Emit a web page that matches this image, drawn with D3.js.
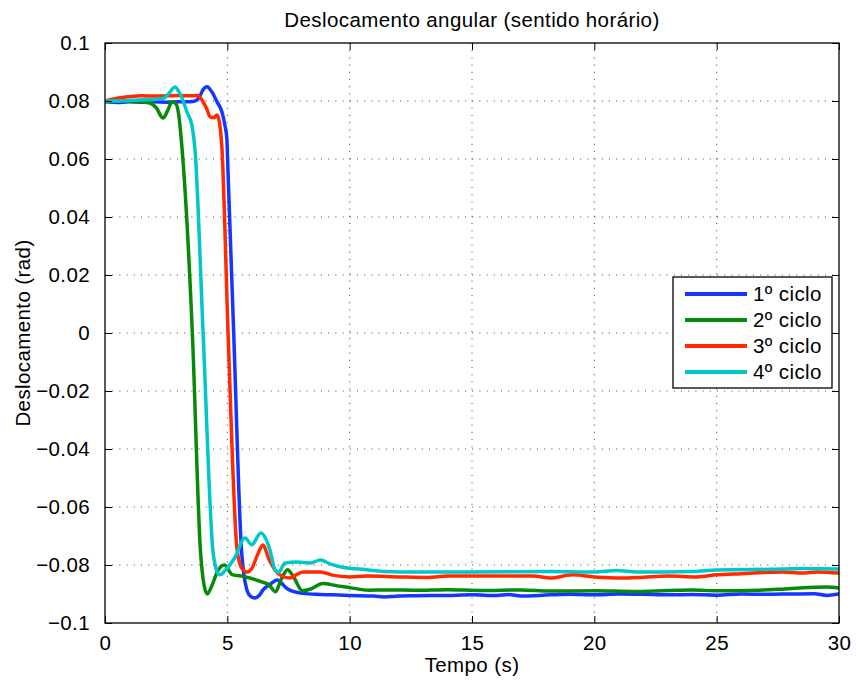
<!DOCTYPE html>
<html>
<head>
<meta charset="utf-8">
<script src="https://cdn.jsdelivr.net/npm/d3@7"></script>
<style>
  html, body { margin: 0; padding: 0; background: #fff; }
  svg { display: block; font-family: "Liberation Sans", Arial, Helvetica, sans-serif; }
  svg text { letter-spacing: 0.4px; }
</style>
</head>
<body>
<svg id="chart" width="856" height="684"></svg>
<script>
// ---- data ----
const seriesNames = ["1º ciclo", "2º ciclo", "3º ciclo", "4º ciclo"];
const seriesColors = ["#1436ff", "#078a07", "#ff2a00", "#00c8c8"];

const t1 = [0, 0.5, 1, 1.5, 2, 2.5, 3, 3.3, 3.6, 3.85, 4.0, 4.17, 4.37, 4.58, 4.78, 4.9, 4.98, 5.03, 5.26, 5.58, 5.8, 5.95, 6.13, 6.3, 6.46, 6.82, 7.03, 7.2, 7.45, 8.0, 8.6, 9.3, 10, 11, 11.4, 12, 12.7, 14, 15, 16, 16.5, 17, 18.2, 19, 20, 21, 22, 23, 24, 25, 26, 27, 28, 29, 29.5, 30];
const v1 = [0.0797, 0.0795, 0.0797, 0.0796, 0.0797, 0.0796, 0.0797, 0.0797, 0.0798, 0.0812, 0.0838, 0.0849, 0.0831, 0.0797, 0.0762, 0.0717, 0.0670, 0.0550, 0.0, -0.0750, -0.0886, -0.0908, -0.0914, -0.0905, -0.0886, -0.0862, -0.0852, -0.0862, -0.0882, -0.0897, -0.0901, -0.0903, -0.0905, -0.0907, -0.0910, -0.0907, -0.0906, -0.0905, -0.0903, -0.0905, -0.0902, -0.0907, -0.0903, -0.0901, -0.0903, -0.0900, -0.0901, -0.0903, -0.0902, -0.0904, -0.0900, -0.0901, -0.0900, -0.0899, -0.0905, -0.0900];

const t2 = [0, 0.5, 1, 1.5, 1.84, 2.1, 2.37, 2.55, 2.74, 2.9, 3.0, 3.15, 3.57, 3.9, 4.05, 4.18, 4.35, 4.6, 4.88, 5.2, 5.7, 6.4, 6.7, 6.97, 7.2, 7.46, 7.7, 8.07, 8.4, 8.9, 9.5, 10, 10.8, 11.4, 12.7, 14, 15.4, 17, 18.2, 20, 21.6, 23, 24, 25, 26.7, 27.5, 28.4, 29.5, 30];
const v2 = [0.0800, 0.0800, 0.0799, 0.0797, 0.0793, 0.0776, 0.0741, 0.0765, 0.0797, 0.0790, 0.0760, 0.0635, 0.0, -0.0750, -0.0870, -0.0900, -0.0875, -0.0822, -0.0800, -0.0833, -0.0840, -0.0858, -0.0868, -0.0892, -0.0850, -0.0816, -0.0840, -0.0889, -0.0883, -0.0864, -0.0872, -0.0878, -0.0887, -0.0886, -0.0887, -0.0885, -0.0888, -0.0886, -0.0890, -0.0889, -0.0891, -0.0888, -0.0886, -0.0889, -0.0887, -0.0884, -0.0879, -0.0876, -0.0879];

const t3 = [0, 0.5, 1, 1.5, 2, 2.5, 3, 3.5, 3.8, 4.0, 4.15, 4.3, 4.45, 4.58, 4.68, 4.78, 5.03, 5.4, 5.6, 5.8, 6.0, 6.2, 6.46, 6.7, 6.95, 7.15, 7.56, 7.85, 8.1, 8.8, 9.3, 10, 10.7, 12, 13.2, 14, 16, 17.5, 18.2, 19.1, 20, 21.1, 22, 23, 24.2, 25, 26, 27.7, 28.5, 29.1, 30];
const v3 = [0.0800, 0.0810, 0.0815, 0.0818, 0.0817, 0.0818, 0.0819, 0.0818, 0.0819, 0.0798, 0.0775, 0.0745, 0.0742, 0.0752, 0.0725, 0.0635, 0.0, -0.0748, -0.0812, -0.0824, -0.0812, -0.0772, -0.0731, -0.0780, -0.0817, -0.0834, -0.0845, -0.0832, -0.0824, -0.0824, -0.0835, -0.0841, -0.0838, -0.0841, -0.0843, -0.0838, -0.0838, -0.0838, -0.0845, -0.0834, -0.0841, -0.0845, -0.0842, -0.0838, -0.0841, -0.0834, -0.0830, -0.0824, -0.0828, -0.0824, -0.0828];

const t4 = [0, 0.5, 1, 1.5, 2, 2.4, 2.6, 2.86, 3.0, 3.15, 3.35, 3.55, 3.68, 4.01, 4.41, 4.55, 4.7, 4.9, 5.3, 5.72, 6.0, 6.37, 6.74, 6.95, 7.1, 7.36, 7.85, 8.4, 8.8, 9.2, 9.7, 10.5, 11.4, 12.7, 15, 18.2, 20, 20.9, 21.8, 24, 25, 27.7, 28.5, 30];
const v4 = [0.0800, 0.0800, 0.0802, 0.0804, 0.0805, 0.0810, 0.0825, 0.0848, 0.0835, 0.0810, 0.0762, 0.0717, 0.0630, 0.0, -0.0750, -0.0815, -0.0834, -0.0820, -0.0776, -0.0707, -0.0730, -0.0690, -0.0748, -0.0817, -0.0825, -0.0793, -0.0790, -0.0793, -0.0783, -0.0796, -0.0808, -0.0815, -0.0822, -0.0824, -0.0824, -0.0822, -0.0824, -0.0819, -0.0824, -0.0822, -0.0817, -0.0814, -0.0812, -0.0814];

const xTicks = [0, 5, 10, 15, 20, 25, 30];
const yTicks = [-0.1, -0.08, -0.06, -0.04, -0.02, 0, 0.02, 0.04, 0.06, 0.08, 0.1];

const titleText = "Deslocamento angular (sentido horário)";
const xLabelText = "Tempo (s)";
const yLabelText = "Deslocamento (rad)";

// ---- layout ----
const svg = d3.select("#chart");
const L = 105, R = 839, T = 43, B = 623;
const x = d3.scaleLinear().domain([0, 30]).range([L, R]);
const y = d3.scaleLinear().domain([-0.1, 0.1]).range([B, T]);
const fontSize = 20.5;

const fmtY = d => d === 0 ? "0" : (d < 0 ? "\u2212" : "") + String(+Math.abs(d).toFixed(2));

// grid
const grid = svg.append("g");
xTicks.filter(d => d > 0 && d < 30).forEach(d => {
  grid.append("line").attr("x1", x(d)).attr("x2", x(d)).attr("y1", T).attr("y2", B)
    .attr("stroke", "#444").attr("stroke-width", 1).attr("stroke-dasharray", "1,6.2");
});
yTicks.filter(d => d > -0.1 + 1e-9 && d < 0.1 - 1e-9).forEach(d => {
  grid.append("line").attr("x1", L).attr("x2", R).attr("y1", y(d)).attr("y2", y(d))
    .attr("stroke", "#444").attr("stroke-width", 1).attr("stroke-dasharray", "1,6.2");
});

// lines
const series = [[t1, v1], [t2, v2], [t3, v3], [t4, v4]];
const line = d3.line().x(d => x(d[0])).y(d => y(d[1])).curve(d3.curveMonotoneX);
svg.append("clipPath").attr("id", "clip").append("rect")
  .attr("x", L).attr("y", T).attr("width", R - L).attr("height", B - T);
const lines = svg.append("g").attr("clip-path", "url(#clip)");
series.forEach((s, i) => {
  const pts = s[0].map((t, j) => [t, s[1][j]]);
  lines.append("path").datum(pts).attr("d", line).attr("fill", "none")
    .attr("stroke", seriesColors[i]).attr("stroke-width", 3.5)
    .attr("stroke-linejoin", "round").attr("stroke-linecap", "round");
});

// axes (inward ticks, box)
const tickLen = 7;
const axB = svg.append("g").attr("transform", `translate(0,${B})`)
  .call(d3.axisBottom(x).tickValues(xTicks).tickSizeInner(-tickLen).tickSizeOuter(0).tickPadding(12).tickFormat(d => String(d)));
const axT = svg.append("g").attr("transform", `translate(0,${T})`)
  .call(d3.axisTop(x).tickValues(xTicks).tickSizeInner(-tickLen).tickSizeOuter(0).tickFormat(""));
const axL = svg.append("g").attr("transform", `translate(${L},0)`)
  .call(d3.axisLeft(y).tickValues(yTicks).tickSizeInner(-tickLen).tickSizeOuter(0).tickPadding(15).tickFormat(fmtY));
const axR = svg.append("g").attr("transform", `translate(${R},0)`)
  .call(d3.axisRight(y).tickValues(yTicks).tickSizeInner(-tickLen).tickSizeOuter(0).tickFormat(""));
[axB, axT, axL, axR].forEach(a => {
  a.select(".domain").remove();
  a.selectAll("line").attr("stroke", "#000").attr("stroke-width", 1);
  a.selectAll("text").attr("font-size", fontSize).attr("fill", "#000")
    .attr("font-family", "'Liberation Sans', Arial, Helvetica, sans-serif");
});
axB.selectAll("text").attr("dy", "0.71em");
svg.append("rect").attr("x", L).attr("y", T).attr("width", R - L).attr("height", B - T)
  .attr("fill", "none").attr("stroke", "#000").attr("stroke-width", 1.3);

// title and labels
svg.append("text").attr("x", (L + R) / 2).attr("y", 27).attr("text-anchor", "middle")
  .attr("font-size", fontSize).text(titleText);
svg.append("text").attr("x", (L + R) / 2).attr("y", 672).attr("text-anchor", "middle")
  .attr("font-size", fontSize).text(xLabelText);
svg.append("text").attr("transform", `translate(30,${(T + B) / 2}) rotate(-90)`).attr("text-anchor", "middle")
  .attr("font-size", fontSize).text(yLabelText);

// legend
const lg = svg.append("g");
lg.append("rect").attr("x", 673).attr("y", 277).attr("width", 159).attr("height", 111)
  .attr("fill", "#fff").attr("stroke", "#000").attr("stroke-width", 1.3);
seriesNames.forEach((n, i) => {
  const cy = 294 + i * 26;
  lg.append("line").attr("x1", 685).attr("x2", 747).attr("y1", cy).attr("y2", cy)
    .attr("stroke", seriesColors[i]).attr("stroke-width", 4);
  lg.append("text").attr("x", 753).attr("y", cy + 7).attr("font-size", fontSize).text(n);
});
</script>
</body>
</html>
